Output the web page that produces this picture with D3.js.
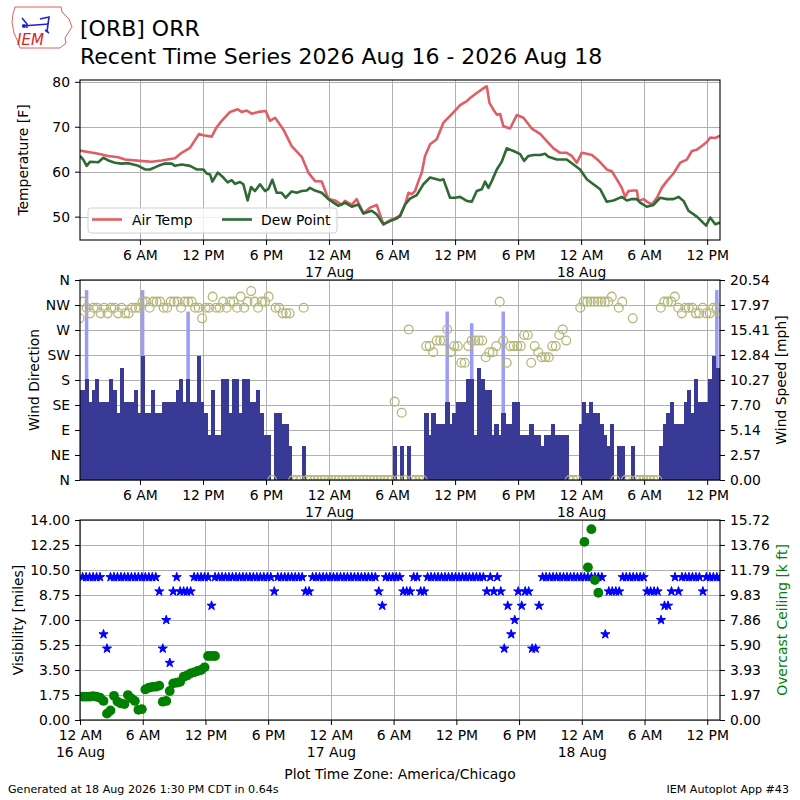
<!DOCTYPE html>
<html>
<head>
<meta charset="utf-8">
<script src="https://cdn.jsdelivr.net/npm/d3@7"></script>
<style>
  body { margin: 0; background: #fff; }
  svg text { font-family: "DejaVu Sans", sans-serif; fill: #000; }
</style>
</head>
<body>
<svg id="chart" width="800" height="800"></svg>
<script>
// hours after 12 AM 16 Aug (local station time)
const tempHours = [0.29,1.08,2.03,2.98,3.94,4.57,6.0,7.11,8.06,9.33,9.97,10.76,11.62,12.03,12.83,13.3,13.78,14.57,15.3,15.68,16.16,16.63,17.27,17.97,18.38,18.86,19.65,20.44,21.4,22.03,22.67,23.3,23.94,24.57,25.21,25.52,26.16,26.63,27.27,27.9,28.54,29.17,29.81,30.44,30.76,31.24,31.56,31.87,32.19,32.51,32.83,33.14,33.62,34.25,34.89,35.52,36.0,36.48,37.11,37.43,38.06,38.86,39.02,39.27,39.65,39.97,40.29,40.6,41.24,41.87,42.51,43.3,44.1,44.73,45.37,46.0,46.63,47.11,47.59,48.06,48.54,49.02,49.65,50.44,50.92,51.4,51.87,52.19,52.51,52.98,53.3,53.46,53.94,54.41,54.73,55.21,55.68,56.16,56.79,57.43,58.06,58.54,59.02,59.49,59.97,60.29,60.76,61.24];
const tempF = [64.7,64.4,64.0,63.5,63.2,62.7,62.4,62.2,62.5,63.0,64.2,65.3,68.4,68.1,67.8,69.9,71.3,73.3,73.9,73.3,73.6,72.9,73.3,73.5,71.3,72.0,69.4,65.7,63.3,59.8,57.9,57.8,53.9,53.6,52.6,53.5,52.6,53.9,50.7,52.0,52.6,48.3,49.2,49.8,50.3,52.7,55.3,55.0,55.7,57.9,59.8,63.5,66.1,67.2,70.9,72.4,73.6,74.8,75.7,76.4,77.5,78.8,79.0,75.3,73.8,72.7,72.8,70.1,69.6,72.6,72.0,69.6,68.4,66.8,65.2,64.2,64.2,63.5,62.0,64.2,64.0,63.7,62.5,60.5,60.1,58.3,56.4,54.4,55.7,55.8,55.8,53.5,53.9,53.1,52.7,54.2,56.4,57.9,59.6,62.0,62.7,64.6,64.9,65.7,66.6,67.6,67.5,68.0];

const dewHours = [0.29,0.6,0.92,1.24,2.03,2.51,2.98,3.62,4.25,4.89,5.84,6.48,6.95,7.75,8.38,9.02,9.33,9.97,10.76,11.4,12.03,12.35,12.67,12.89,13.4,13.94,14.35,14.73,15.05,15.52,15.84,16.25,16.57,16.95,17.43,17.9,18.22,18.6,19.02,19.49,19.87,20.44,20.92,21.4,21.87,22.19,22.67,23.3,23.94,24.89,25.52,26.16,26.79,27.27,28.06,28.54,29.17,29.81,30.44,30.76,31.24,31.71,32.35,32.98,33.62,34.25,34.57,34.89,35.52,36.0,36.48,37.11,37.59,38.06,38.54,38.86,39.17,39.49,39.97,40.44,40.92,41.56,42.19,42.57,42.98,43.46,44.1,44.57,44.89,45.68,46.63,47.27,47.9,48.54,49.17,49.81,50.44,51.08,51.87,52.35,52.83,53.3,53.62,54.25,54.89,55.52,56.16,56.79,57.27,57.75,58.22,59.02,59.9,60.29,60.76,61.24];
const dewF = [63.5,62.7,61.3,62.2,62.1,63.1,62.5,62.0,61.8,61.9,61.3,60.5,60.5,61.3,61.8,61.8,61.3,61.6,61.3,60.5,60.5,59.6,59.4,57.8,59.8,58.7,57.6,58.1,57.3,57.7,57.2,53.6,56.6,55.7,57.2,55.7,56.1,58.2,55.3,55.3,54.2,55.6,55.3,55.7,55.8,56.4,55.8,55.3,53.9,52.4,53.1,52.2,52.7,50.7,51.3,50.5,48.3,49.0,49.6,50.1,52.7,54.0,54.8,57.2,58.7,58.3,58.1,58.3,54.2,54.2,54.4,53.5,53.3,55.7,56.1,57.8,56.4,57.9,60.5,62.2,65.2,64.6,63.9,62.4,63.5,63.7,63.7,64.0,63.3,62.7,62.7,61.6,60.5,58.3,57.2,56.1,53.3,53.6,54.4,53.6,53.9,53.9,53.1,52.2,52.6,54.2,53.9,53.9,54.4,53.5,51.3,50.0,48.0,49.8,48.3,48.7];

// observations every 20 minutes, first one at 00:15 on 16 Aug
const obsFirstHour = 0.25;
const obsStepHour = 1 / 3;

const windMph = [
  9.2, 9.2, 10.4, 8.0, 9.2, 10.4, 8.0, 8.0, 8.0, 10.4, 9.2, 6.9,
  11.5, 8.0, 8.0, 8.0, 9.2, 6.9, 12.7, 6.9, 6.9, 9.2, 6.9, 6.9,
  8.0, 8.0, 8.0, 8.0, 9.2, 10.4, 8.0, 10.4, 8.0, 8.0, 12.7, 8.0,
  6.9, 4.6, 9.2, 4.6, 4.6, 10.4, 10.4, 6.9, 10.4, 10.4, 6.9, 10.4,
  10.4, 8.0, 8.0, 9.2, 6.9, 4.6, 4.6, 0, 6.9, 6.9, 5.75, 5.75,
  3.5, 0, 0, 0, 3.5, 0, 0, 0, 0, 0, 0, 0,
  0, 0, 0, 0, 0, 0, 0, 0, 0, 0, 0, 0,
  0, 0, 0, 0, 0, 0, 3.5, 0, 3.5, 0, 3.5, 0,
  0, 0, 0, 6.9, 4.6, 6.9, 5.75, 5.75, 5.75, 8.0, 5.75, 6.9,
  8.0, 8.0, 8.0, 10.4, 10.4, 4.6, 11.5, 10.4, 9.2, 9.2, 4.6, 5.75,
  4.6, 6.9, 5.75, 5.75, 8.0, 8.0, 4.6, 4.6, 4.6, 5.75, 4.6, 4.6,
  3.5, 4.6, 4.6, 5.75, 4.6, 4.6, 4.6, 4.6, 0, 0, 0, 5.75,
  8.0, 6.9, 8.0, 6.9, 6.9, 5.75, 4.6, 3.5, 5.75, 0, 3.5, 3.5,
  0, 0, 3.5, 0, 0, 0, 0, 0, 0, 0, 3.5, 5.75,
  6.9, 8.0, 5.75, 5.75, 5.75, 8.0, 9.2, 6.9, 10.4, 8.0, 8.0, 8.0,
  10.4, 12.7, 11.5, 11.5
];

const windDir = [
  291, 321, 310, 300, 310, 310, 300, 310, 300, 310, 310, 300,
  310, 300, 300, 310, 310, 310, 321, 321, 310, 321, 321, 321,
  310, 310, 321, 321, 321, 310, 321, 321, 321, 310, 310, 291,
  310, 310, 330, 310, 310, 321, 310, 321, 321, 310, 330, 310,
  321, 340, 321, 310, 321, 321, 330, 0, 310, 310, 300, 300,
  300, 0, 0, 0, 310, 0, 0, 0, 0, 0, 0, 0,
  0, 0, 0, 0, 0, 0, 0, 0, 0, 0, 0, 0,
  0, 0, 0, 0, 0, 0, 141, 0, 121, 0, 271, 0,
  0, 0, 0, 241, 241, 230, 251, 251, 251, 271, 230, 241,
  241, 211, 211, 241, 251, 251, 251, 251, 221, 230, 230, 241,
  321, 251, 211, 241, 241, 241, 241, 261, 261, 211, 241, 230,
  221, 221, 221, 241, 241, 261, 271, 251, 0, 0, 0, 310,
  321, 321, 321, 321, 321, 321, 321, 321, 330, 0, 310, 321,
  0, 0, 291, 0, 0, 0, 0, 0, 0, 0, 310, 321,
  321, 321, 330, 310, 300, 310, 310, 310, 300, 300, 310, 300,
  300, 310, 310, 300
];

const gustObs = [2, 18, 31, 105, 112, 121, 182];
const gustMph = [19.5, 19.5, 17.3, 17.3, 16.1, 17.3, 19.5];

const visMiles = [
  10, 10, 10, 10, 10, 10, 6, 5, 10, 10, 10, 10,
  10, 10, 10, 10, 10, 10, 10, 10, 10, 10, 9, 5,
  7, 4, 9, 10, 9, 9, 9, 9, 10, 10, 10, 10,
  10, 8, 10, 10, 10, 10, 10, 10, 10, 10, 10, 10,
  10, 10, 10, 10, 10, 10, 10, 9, 10, 10, 10, 10,
  10, 10, 10, 10, 9, 9, 10, 10, 10, 10, 10, 10,
  10, 10, 10, 10, 10, 10, 10, 10, 10, 10, 10, 10,
  10, 9, 8, 10, 10, 10, 10, 10, 9, 9, 9, 10,
  10, 9, 9, 10, 10, 10, 10, 10, 10, 10, 10, 10,
  10, 10, 10, 10, 10, 10, 10, 10, 9, 10, 9, 10,
  9, 5, 8, 6, 7, 9, 8, 9, 9, 5, 5, 8,
  10, 10, 10, 10, 10, 10, 10, 10, 10, 10, 10, 10,
  10, 10, 10, 10, 10, 10, 6, 9, 9, 9, 9, 10,
  10, 10, 10, 10, 10, 10, 9, 9, 9, 9, 7, 8,
  8, 9, 10, 9, 10, 10, 10, 10, 10, 10, 9, 10,
  10, 10, 10, 10
];

const ceilObs = [0,1,2,3,4,5,6,7,8,9,10,11,12,13,14,15,16,17,18,19,20,21,22,23,24,25,26,27,28,29,30,31,32,33,34,35,36,37,38,144,145,146,147,148];
const ceilKft = [1.83,1.83,1.83,1.88,1.83,1.75,1.5,0.5,0.75,1.9,1.45,1.3,1.25,1.96,1.7,1.5,0.8,0.85,2.4,2.54,2.6,2.62,2.7,1.44,1.5,2.28,2.88,2.93,3.0,3.4,3.5,3.67,3.75,3.85,3.93,4.14,5.03,5.03,5.03,14.0,12.0,15.0,11.0,10.0];

const tempTicks = [50, 60, 70, 80];
const dirTicks = [0, 45, 90, 135, 180, 225, 270, 315, 360];
const dirLabels = ["N", "NE", "E", "SE", "S", "SW", "W", "NW", "N"];
const speedTicks = [0, 2.57, 5.14, 7.70, 10.27, 12.84, 15.41, 17.97, 20.54];
const visTicks = [0, 1.75, 3.5, 5.25, 7, 8.75, 10.5, 12.25, 14];
const ceilTicks = [0, 1.97, 3.93, 5.90, 7.86, 9.83, 11.79, 13.76, 15.72];

const svg = d3.select("#chart");
const t0 = Date.UTC(2026, 7, 16);
const at = h => new Date(t0 + h * 3600e3);
const obsHour = j => obsFirstHour + j * obsStepHour;

const xTop = d3.scaleUtc().domain([at(0.29), at(61.22)]).range([80, 720]);
const xBot = d3.scaleUtc().domain([at(0), at(61.22)]).range([80, 720]);

const yTemp = d3.scaleLinear().domain([44.8, 80.4]).range([240, 80]);
const yDir = d3.scaleLinear().domain([0, 360]).range([480, 280]);
const ySpd = d3.scaleLinear().domain([0, 20.54]).range([480, 280]);
const yVis = d3.scaleLinear().domain([0, 14]).range([720, 520]);
const yCeil = d3.scaleLinear().domain([0, 15.72]).range([720, 520]);

const fmtHour = d3.utcFormat("%-I %p");
const fmtDay = d3.utcFormat("%-d %b");
const FS = "13.9px";

drawHeader();
const p1 = panel("p1", xTop, yTemp, tempTicks, 80, 240);
const p2 = panel("p2", xTop, yDir, dirTicks, 280, 480);
const p3 = panel("p3", xBot, yVis, visTicks, 520, 720);
drawTemps(p1);
drawWind(p2);
drawVis(p3);
drawFooter();

function panel(id, x, y, gridVals, top, bottom) {

  svg.append("clipPath").attr("id", id)
    .append("rect").attr("x", 80).attr("y", top).attr("width", 640).attr("height", bottom - top);

  const grid = svg.append("g").attr("stroke", "#b0b0b0").attr("stroke-width", 1);
  const xt = x.ticks(d3.utcHour.every(6));

  grid.selectAll(".gx").data(xt).enter().append("line")
    .attr("x1", d => Math.round(x(d)) + 0.5).attr("x2", d => Math.round(x(d)) + 0.5)
    .attr("y1", top).attr("y2", bottom);

  grid.selectAll(".gy").data(gridVals).enter().append("line")
    .attr("x1", 80).attr("x2", 720)
    .attr("y1", d => Math.round(y(d)) + 0.5).attr("y2", d => Math.round(y(d)) + 0.5);

  const ax = svg.append("g")
    .attr("transform", `translate(0,${bottom})`)
    .call(d3.axisBottom(x).ticks(d3.utcHour.every(6)).tickSize(5).tickPadding(5).tickFormat(fmtHour));
  ax.select(".domain").remove();
  ax.selectAll("text").attr("font-size", FS).attr("font-family", "DejaVu Sans");
  ax.selectAll(".tick").filter(d => d.getUTCHours() === 0)
    .append("text")
    .attr("y", 27.3).attr("dy", "0.71em").attr("fill", "#000")
    .attr("font-size", FS).attr("font-family", "DejaVu Sans")
    .text(d => fmtDay(d));

  const plot = svg.append("g").attr("clip-path", `url(#${id})`);
  return { plot, top, bottom };
}

function frame(top, bottom) {
  svg.append("rect")
    .attr("x", 80).attr("y", top).attr("width", 640).attr("height", bottom - top)
    .attr("fill", "none").attr("stroke", "#000").attr("stroke-width", 1.1);
}

function yAxis(scale, vals, fmt, side, color) {
  const axis = side === "left" ? d3.axisLeft(scale) : d3.axisRight(scale);
  const g = svg.append("g")
    .attr("transform", `translate(${side === "left" ? 80 : 720},0)`)
    .call(axis.tickValues(vals).tickSize(5).tickPadding(5).tickFormat(fmt));
  g.select(".domain").remove();
  g.selectAll("text").attr("font-size", FS).attr("font-family", "DejaVu Sans")
    .attr("fill", color || "#000");
  return g;
}

function yLabel(text, x, y, color) {
  svg.append("text")
    .attr("transform", `translate(${x},${y}) rotate(-90)`)
    .attr("text-anchor", "middle")
    .attr("font-size", FS)
    .style("fill", color || "#000")
    .text(text);
}

function drawTemps(p) {

  const line = d3.line().x(d => xTop(at(d[0]))).y(d => yTemp(d[1]));

  p.plot.append("path").datum(d3.zip(tempHours, tempF))
    .attr("d", line).attr("fill", "none")
    .attr("stroke", "#de5f66").attr("stroke-width", 2.6).attr("stroke-linejoin", "round");

  p.plot.append("path").datum(d3.zip(dewHours, dewF))
    .attr("d", line).attr("fill", "none")
    .attr("stroke", "#2f6a35").attr("stroke-width", 2.6).attr("stroke-linejoin", "round");

  // legend
  const lg = svg.append("g");
  lg.append("rect").attr("x", 88).attr("y", 208).attr("width", 249).attr("height", 25).attr("rx", 3)
    .attr("fill", "#fff").attr("fill-opacity", 0.8).attr("stroke", "#d0d0d0");
  lg.append("line").attr("x1", 92).attr("x2", 122).attr("y1", 219.5).attr("y2", 219.5)
    .attr("stroke", "#de5f66").attr("stroke-width", 2.6);
  lg.append("text").attr("x", 132).attr("y", 224.5).attr("font-size", FS).text("Air Temp");
  lg.append("line").attr("x1", 222).attr("x2", 252).attr("y1", 219.5).attr("y2", 219.5)
    .attr("stroke", "#2f6a35").attr("stroke-width", 2.6);
  lg.append("text").attr("x", 261).attr("y", 224.5).attr("font-size", FS).text("Dew Point");

  frame(p.top, p.bottom);
  yAxis(yTemp, tempTicks, d3.format("d"), "left");
  yLabel("Temperature [F]", 28, 160);
}

function drawWind(p) {

  const half = obsStepHour / 2;

  p.plot.selectAll(".gust").data(d3.zip(gustObs, gustMph)).enter().append("rect")
    .attr("x", d => xTop(at(obsHour(d[0]) - half)))
    .attr("width", d => xTop(at(obsHour(d[0]) + half)) - xTop(at(obsHour(d[0]) - half)))
    .attr("y", d => ySpd(d[1]))
    .attr("height", d => ySpd(0) - ySpd(d[1]))
    .attr("fill", "#9c9cf6");

  p.plot.append("g").attr("shape-rendering", "crispEdges")
    .selectAll("rect").data(windMph).enter().append("rect")
    .attr("x", (d, j) => xTop(at(obsHour(j) - half)))
    .attr("width", (d, j) => xTop(at(obsHour(j) + half)) - xTop(at(obsHour(j) - half)) + 0.6)
    .attr("y", d => ySpd(d))
    .attr("height", d => ySpd(0) - ySpd(d))
    .attr("fill", "#393996");

  p.plot.selectAll(".dir").data(windDir).enter().append("circle")
    .attr("cx", (d, j) => xTop(at(obsHour(j))))
    .attr("cy", d => yDir(d))
    .attr("r", 4.4)
    .attr("fill", "none").attr("stroke", "#b5b77a").attr("stroke-width", 1.3);

  frame(p.top, p.bottom);
  yAxis(yDir, dirTicks, (d, i) => dirLabels[i], "left");
  yAxis(ySpd, speedTicks, d3.format(".2f"), "right");
  yLabel("Wind Direction", 39, 380);
  yLabel("Wind Speed [mph]", 786, 380);
}

function drawVis(p) {

  const star = d3.symbol(d3.symbolStar, 26);

  p.plot.selectAll(".vis").data(visMiles).enter().append("path")
    .attr("d", star)
    .attr("transform", (d, j) => `translate(${xBot(at(obsHour(j)))},${yVis(d)})`)
    .attr("fill", "#0000ff").attr("stroke", "#0000ff").attr("stroke-width", 1)
    .attr("stroke-linejoin", "round");

  p.plot.selectAll(".ceil").data(d3.zip(ceilObs, ceilKft)).enter().append("circle")
    .attr("cx", d => xBot(at(obsHour(d[0]))))
    .attr("cy", d => yCeil(d[1]))
    .attr("r", 4.9)
    .attr("fill", "#008000");

  frame(p.top, p.bottom);
  yAxis(yVis, visTicks, d3.format(".2f"), "left");
  yAxis(yCeil, ceilTicks, d3.format(".2f"), "right");
  yLabel("Visibility [miles]", 23, 620);
  yLabel("Overcast Ceiling [k ft]", 787, 620, "#008000");
}

function drawHeader() {

  const logo = svg.append("g");
  logo.append("path")
    .attr("d", "M15,7 L61,7 L62,12 L69,19 L72,27 L68,33 L65,38 L66,43 L60,48 L20,48 L18,42 L14,33 L12,22 L13,14 Z")
    .attr("fill", "none").attr("stroke", "#e06060").attr("stroke-width", 1);
  logo.append("path")
    .attr("d", "M22,18 L27,24 L27,28 M22,26 L49,24 M40,19 L49,17 L48,24 L47,32 M45,30 L49,33")
    .attr("fill", "none").attr("stroke", "#2222cc").attr("stroke-width", 1.6);
  logo.append("circle").attr("cx", 24).attr("cy", 26).attr("r", 2).attr("fill", "#2222cc");
  logo.append("text").attr("x", 17).attr("y", 45)
    .attr("font-family", "DejaVu Serif").attr("font-style", "italic").attr("font-size", "15px")
    .style("fill", "#dd2222").text("IEM");

  svg.append("text").attr("x", 80).attr("y", 36).attr("font-size", "22px").text("[ORB] ORR");
  svg.append("text").attr("x", 80).attr("y", 64).attr("font-size", "22px")
    .text("Recent Time Series 2026 Aug 16 - 2026 Aug 18");
}

function drawFooter() {
  svg.append("text").attr("x", 400).attr("y", 779).attr("text-anchor", "middle")
    .attr("font-size", FS).text("Plot Time Zone: America/Chicago");
  svg.append("text").attr("x", 8).attr("y", 793).attr("font-size", "11.1px")
    .text("Generated at 18 Aug 2026 1:30 PM CDT in 0.64s");
  svg.append("text").attr("x", 789).attr("y", 793).attr("text-anchor", "end").attr("font-size", "11.1px")
    .text("IEM Autoplot App #43");
}
</script>
</body>
</html>
